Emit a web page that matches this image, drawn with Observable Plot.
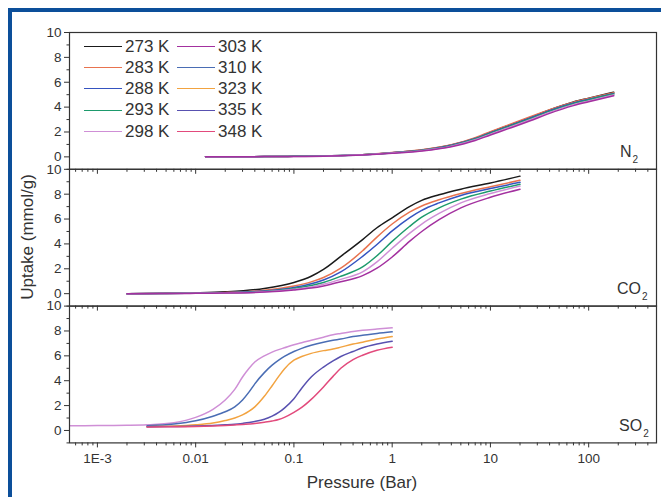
<!DOCTYPE html>
<html><head><meta charset="utf-8">
<script src="https://cdn.jsdelivr.net/npm/d3@7"></script>
<script src="https://cdn.jsdelivr.net/npm/@observablehq/plot@0.6"></script>
<style>
body{margin:0;background:#fff;font-family:"Liberation Sans",Arial,sans-serif;color:#333;}
#wrap{position:relative;width:661px;height:500px;overflow:hidden;background:#fff}
#wrap svg{position:absolute;left:0;top:0}
.lbl{position:absolute;line-height:1;white-space:nowrap;color:#333}
.band{position:absolute;background:#0c4f9a}
</style></head><body><div id="wrap"></div>
<script>
// ---- data ----
const temps = ["273 K","283 K","288 K","293 K","298 K","303 K","310 K","323 K","335 K","348 K"];
const colors = ["#1a1a1a","#e8734f","#3553c0","#1d9a6c","#cf8fd6","#a3309f","#4a6db4","#f2a340","#5851b0","#e24a7c"];
const gases = ["N2","CO2","SO2"];

const n2Pressure = [0.0126, 0.05, 0.1, 0.24, 0.5, 1, 2, 4, 7, 10, 15, 25, 40, 70, 100, 180];
const n2_273 = [0.0, 0.02, 0.04, 0.08, 0.18, 0.34, 0.55, 0.95, 1.5, 1.98, 2.5, 3.15, 3.78, 4.42, 4.72, 5.2];
const n2_283 = [0.0, 0.02, 0.04, 0.08, 0.18, 0.35, 0.57, 0.98, 1.55, 2.03, 2.55, 3.2, 3.8, 4.4, 4.7, 5.15];
const n2_288 = [0.0, 0.02, 0.04, 0.08, 0.17, 0.33, 0.54, 0.93, 1.47, 1.95, 2.45, 3.1, 3.72, 4.33, 4.63, 5.1];
const n2_293 = [0.0, 0.02, 0.04, 0.07, 0.17, 0.32, 0.52, 0.9, 1.43, 1.9, 2.4, 3.05, 3.66, 4.27, 4.58, 5.05];
const n2_298 = [0.0, 0.02, 0.03, 0.07, 0.16, 0.31, 0.5, 0.86, 1.37, 1.83, 2.32, 2.96, 3.58, 4.2, 4.5, 4.98];
const n2_303 = [0.0, 0.02, 0.03, 0.07, 0.15, 0.29, 0.48, 0.82, 1.31, 1.76, 2.25, 2.88, 3.5, 4.12, 4.43, 4.92];

const co2Pressure = [0.002, 0.005, 0.01, 0.02, 0.05, 0.1, 0.15, 0.2, 0.3, 0.5, 0.7, 1, 1.5, 2, 3, 5, 10, 20];
const co2_273 = [0, 0.03, 0.07, 0.15, 0.42, 0.9, 1.4, 1.95, 3.0, 4.35, 5.3, 6.1, 7.0, 7.5, 7.95, 8.4, 8.9, 9.45];
const co2_283 = [0, 0.02, 0.05, 0.1, 0.28, 0.62, 0.95, 1.3, 2.05, 3.45, 4.55, 5.6, 6.55, 7.05, 7.55, 8.05, 8.6, 9.12];
const co2_288 = [0, 0.02, 0.04, 0.08, 0.22, 0.5, 0.8, 1.1, 1.75, 3.0, 3.95, 5.05, 6.1, 6.7, 7.3, 7.9, 8.45, 8.95];
const co2_293 = [0, 0.015, 0.035, 0.07, 0.18, 0.42, 0.65, 0.9, 1.4, 2.15, 3.05, 4.2, 5.4, 6.15, 6.9, 7.6, 8.25, 8.8];
const co2_298 = [0, 0.012, 0.03, 0.06, 0.15, 0.35, 0.54, 0.75, 1.15, 1.75, 2.55, 3.65, 4.85, 5.6, 6.45, 7.3, 8.05, 8.65];
const co2_303 = [0, 0.01, 0.025, 0.05, 0.13, 0.3, 0.45, 0.62, 0.95, 1.45, 2.05, 2.95, 4.2, 5.0, 5.95, 6.9, 7.75, 8.4];

const so2Pressure = [0.00053, 0.001, 0.002, 0.0032, 0.006, 0.01, 0.015, 0.02, 0.025, 0.03, 0.035, 0.04, 0.05, 0.06, 0.07, 0.08, 0.1, 0.12, 0.15, 0.2, 0.25, 0.3, 0.4, 0.5, 0.7, 1];
const so2_298 = [0.38, 0.39, 0.41, 0.45, 0.62, 1.05, 1.7, 2.45, 3.3, 4.3, 5.0, 5.5, 6.0, 6.3, 6.5, 6.65, 6.9, 7.05, 7.25, 7.5, 7.7, 7.8, 7.95, 8.05, 8.15, 8.25];
const so2_310 = [null, null, null, 0.38, 0.52, 0.78, 1.15, 1.5, 1.9, 2.45, 3.1, 3.75, 4.65, 5.25, 5.65, 5.95, 6.35, 6.6, 6.85, 7.1, 7.25, 7.35, 7.55, 7.65, 7.8, 7.93];
const so2_323 = [null, null, null, 0.3, 0.35, 0.45, 0.6, 0.8, 1.0, 1.25, 1.55, 1.9, 2.75, 3.6, 4.35, 4.95, 5.65, 5.95, 6.2, 6.42, 6.55, 6.7, 6.95, 7.1, 7.35, 7.55];
const so2_335 = [null, null, null, 0.3, 0.32, 0.35, 0.4, 0.45, 0.5, 0.57, 0.64, 0.72, 0.9, 1.15, 1.45, 1.8, 2.55, 3.4, 4.3, 5.1, 5.6, 5.95, 6.35, 6.65, 6.95, 7.18];
const so2_348 = [null, null, null, 0.28, 0.3, 0.32, 0.36, 0.4, 0.44, 0.48, 0.52, 0.56, 0.66, 0.76, 0.88, 1.05, 1.45, 1.85, 2.5, 3.5, 4.35, 5.0, 5.7, 6.05, 6.45, 6.7];

const xDecades = [1e-3, 1e-2, 1e-1, 1, 10, 100];
const xDecadeLabels = ["1E-3", "0.01", "0.1", "1", "10", "100"];
const yMajor = [0, 2, 4, 6, 8, 10];
const yMinor = [-1, 1, 3, 5, 7, 9];

// ---- build tables ----
function table(P, series) {
  const rows = [];
  for (const [t, vals] of series) vals.forEach((v, i) => { if (v != null) rows.push({p: P[i], v, t}); });
  return rows;
}
const n2Data = table(n2Pressure, [["273 K",n2_273],["283 K",n2_283],["288 K",n2_288],["293 K",n2_293],["298 K",n2_298],["303 K",n2_303]]);
const co2Data = table(co2Pressure, [["273 K",co2_273],["283 K",co2_283],["288 K",co2_288],["293 K",co2_293],["298 K",co2_298],["303 K",co2_303]]);
const so2Data = table(so2Pressure, [["298 K",so2_298],["310 K",so2_310],["323 K",so2_323],["335 K",so2_335],["348 K",so2_348]]);

// ---- layout ----
const W = 661, H = 500;
const frames = [[32, 168.8], [168.8, 305.6], [305.6, 442.4]];
const xDomain = [5.2e-4, 490];
const xMinor = [];
for (let e = -4; e <= 2; e++) for (let k = 2; k <= 9; k++) { const v = k * Math.pow(10, e); if (v > xDomain[0] && v < xDomain[1]) xMinor.push(v); }

const wrap = document.getElementById("wrap");
function panel(data, [top, bottom], isBottom) {
  const svg = Plot.plot({
    width: W, height: H,
    marginTop: top, marginBottom: H - bottom, marginLeft: 69, marginRight: 5,
    style: {background: "transparent", overflow: "visible", fontFamily: "'Liberation Sans', Arial, sans-serif", fontSize: "13px", color: "#333"},
    x: {type: "log", domain: xDomain, axis: null},
    y: {domain: [-1, 10], axis: null},
    color: {domain: temps, range: colors},
    marks: [
      Plot.axisY({ticks: yMajor, tickSize: 5, tickPadding: 3, tickFormat: d => String(d), label: null, fontSize: 13.5, strokeWidth: 1}),
      Plot.axisY({ticks: yMinor, tickSize: 2.5, tickFormat: () => "", label: null, strokeWidth: 1}),
      Plot.axisX({ticks: xDecades, tickSize: 5, tickPadding: 6, label: null, fontSize: 13.5, strokeWidth: 1,
        tickFormat: d => isBottom ? xDecadeLabels[xDecades.indexOf(d)] : ""}),
      Plot.axisX({ticks: xMinor, tickSize: 3, tickFormat: () => "", label: null, strokeWidth: 1}),
      Plot.line(data, {x: "p", y: "v", z: "t", stroke: "t", strokeWidth: 1.5, curve: "monotone-x"}),
      Plot.frame({stroke: "#333", strokeWidth: 1.2})
    ]
  });
  wrap.appendChild(svg);
}
panel(n2Data, frames[0], false);
panel(co2Data, frames[1], false);
panel(so2Data, frames[2], true);

// ---- decorations: border, labels, legend ----
function addDiv(cls, css, html) {
  const d = document.createElement("div");
  d.className = cls; d.style.cssText = css; if (html != null) d.innerHTML = html;
  wrap.appendChild(d); return d;
}
addDiv("band", "left:8px;top:7.5px;width:653px;height:4px;");
addDiv("band", "left:7.5px;top:7.5px;width:4.5px;height:489px;");

function text(str, x, baseline, size, extra) {
  return addDiv("lbl", `left:${x}px;top:${baseline - 0.8465 * size}px;font-size:${size}px;${extra || ""}`, str);
}
const gasLabels = [["N", "2"], ["CO", "2"], ["SO", "2"]];
const gasStarts = [620, 617, 619];
gasLabels.forEach(([a, b], i) => {
  text(`${a}<span style="font-size:10px;position:relative;top:6px;margin-left:1px">${b}</span>`, gasStarts[i], frames[i][1] - 11, 16);
});

// axis titles
addDiv("lbl", `left:362px;top:${488.3 - 0.8465 * 17}px;font-size:17px;transform:translateX(-50%);`, "Pressure (Bar)");
addDiv("lbl", `left:27px;top:237px;font-size:17px;transform:translate(-50%,-50%) rotate(-90deg);`, "Uptake (mmol/g)");

// legend
temps.forEach((t, i) => {
  const col = Math.floor(i / 5), row = i % 5;
  const cy = 46.7 + row * 21.2;
  const lx = col === 0 ? 84 : 177;
  addDiv("lbl", `left:${lx}px;top:${cy - 0.8}px;width:38px;height:0;border-top:1.6px solid ${colors[i]};`);
  addDiv("lbl", `left:${lx + 41}px;top:${cy - 10}px;font-size:17px;line-height:20px;`, t);
});
</script></body></html>
